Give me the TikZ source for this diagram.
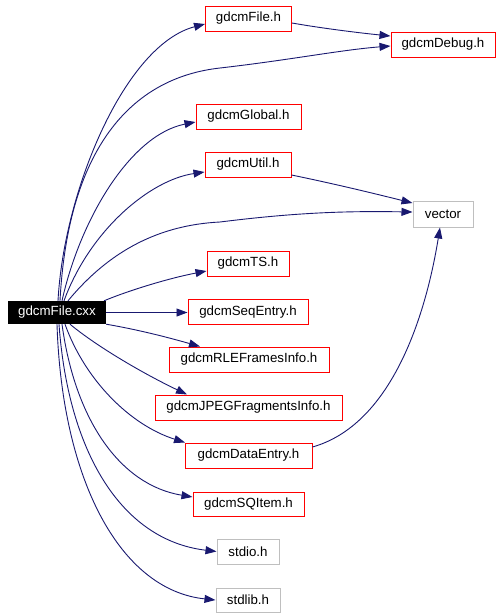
\documentclass[tikz,border=0pt]{standalone}
\usepackage{fontspec}
\setmainfont{Liberation Sans}
\usetikzlibrary{arrows.meta}
\definecolor{edgeblue}{HTML}{191970}
\definecolor{boxgray}{HTML}{BFBFBF}
\tikzset{
  hdr/.style={draw=red, line width=1pt, minimum height=25pt, inner sep=0pt, font=\fontsize{13.3}{16}\selectfont},
  sys/.style={draw=boxgray, line width=1pt, minimum height=25pt, inner sep=0pt, font=\fontsize{13.3}{16}\selectfont},
  root/.style={fill=black, text=white, minimum height=23pt, inner sep=0pt, font=\fontsize{13.3}{16}\selectfont},
  dep/.style={draw=edgeblue, line width=0.9pt, -{Triangle[length=11pt,width=8pt]}},
}
\begin{document}
\begin{tikzpicture}[x=1pt,y=-1pt]
\useasboundingbox (0,0) rectangle (501,616);
\node[root, minimum width=98pt] (cxx) at (57,312.5) {gdcmFile.cxx};
\node[hdr, minimum width=86pt] (fileh) at (248.5,18.5) {gdcmFile.h};
\node[hdr, minimum width=104pt] (debug) at (443,44.5) {gdcmDebug.h};
\node[hdr, minimum width=105pt] (global) at (248.5,116.5) {gdcmGlobal.h};
\node[hdr, minimum width=86pt] (util) at (248,164.5) {gdcmUtil.h};
\node[sys, minimum width=60pt, minimum height=26pt] (vector) at (443,214) {vector};
\node[hdr, minimum width=82pt] (ts) at (248,263.5) {gdcmTS.h};
\node[hdr, minimum width=120pt] (seq) at (248,312) {gdcmSeqEntry.h};
\node[hdr, minimum width=160pt] (rle) at (249,359.5) {gdcmRLEFramesInfo.h};
\node[hdr, minimum width=187pt] (jpeg) at (248.5,407.5) {gdcmJPEGFragmentsInfo.h};
\node[hdr, minimum width=127pt] (data) at (248.5,455.5) {gdcmDataEntry.h};
\node[hdr, minimum width=111pt, minimum height=24pt] (sqitem) at (248.5,504) {gdcmSQItem.h};
\node[sys, minimum width=62pt] (stdio) at (248,551.5) {stdio.h};
\node[sys, minimum width=64pt, minimum height=24pt] (stdlib) at (248,600) {stdlib.h};

\coordinate (dbgmid) at (220,68);
\coordinate (vecmid) at (220,222);

\draw[dep] ([xshift=1pt]cxx.north) .. controls (64,190) and (125,45) .. ([yshift=-5.5pt]fileh.west);
\draw[dep] ([xshift=3pt]cxx.north) .. controls (68,150) and (130,78) .. (dbgmid) .. controls (290,60) and (340,50) .. ([yshift=-1.5pt]debug.west);
\draw[dep] ([xshift=5pt]cxx.north) .. controls (80,220) and (130,135) .. ([yshift=-5.5pt]global.west);
\draw[dep] ([xshift=7pt]cxx.north) .. controls (90,230) and (150,180) .. ([yshift=-7.5pt]util.west);
\draw[dep] ([xshift=11pt]cxx.north) .. controls (110,250) and (160,225) .. (vecmid) .. controls (300,212) and (350,211) .. ([yshift=2pt]vector.west);
\draw[dep] ([xshift=47pt]cxx.north) .. controls (130,290) and (170,278) .. ([yshift=-7.5pt]ts.west);
\draw[dep] (cxx.east) -- (cxx.east -| seq.west);
\draw[dep] (cxx.south east) .. controls (140,330) and (170,338) .. ([xshift=-49pt]rle.north);
\draw[dep] ([xshift=13pt]cxx.south) .. controls (95,345) and (140,372) .. ([xshift=-61.5pt]jpeg.north);
\draw[dep] ([xshift=8pt]cxx.south) .. controls (85,380) and (130,425) .. ([xshift=-63.5pt]data.north);
\draw[dep] ([xshift=5pt]cxx.south) .. controls (75,420) and (120,485) .. ([yshift=7pt]sqitem.west);
\draw[dep] ([xshift=2pt]cxx.south) .. controls (68,450) and (120,540) .. (stdio.west);
\draw[dep] (cxx.south) .. controls (62,480) and (120,590) .. (stdlib.west);
\draw[dep] ([yshift=-4.5pt]fileh.east) .. controls (320,28) and (360,33) .. ([yshift=8.5pt]debug.west);
\draw[dep] ([yshift=-10.5pt]util.east) .. controls (340,185) and (380,195) .. ([yshift=11pt]vector.west);
\draw[dep] ([yshift=8.5pt]data.east) .. controls (390,425) and (425,320) .. ([xshift=-3pt]vector.south);
\end{tikzpicture}
\end{document}
